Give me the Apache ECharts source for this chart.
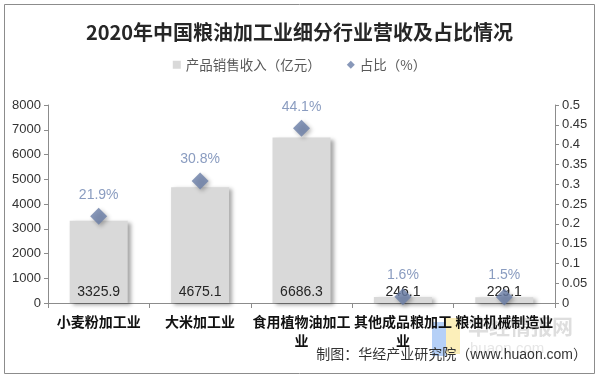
<!DOCTYPE html>
<html>
<head>
<meta charset="utf-8">
<script src="https://cdn.jsdelivr.net/npm/echarts@6/dist/echarts.min.js"></script>
<style>
html,body{margin:0;padding:0;background:#fff;}
#c{width:599px;height:378px;}
</style>
</head>
<body>
<div id="c"></div>
<script>
var titleText = '2020年中国粮油加工业细分行业营收及占比情况';
var categories = ['小麦粉加工业', '大米加工业', '食用植物油加工业', '其他成品粮加工业', '粮油机械制造业'];
var revenue = [3325.9, 4675.1, 6686.3, 246.1, 229.1];
var share = [0.219, 0.308, 0.441, 0.016, 0.015];
var seriesNames = ['产品销售收入（亿元）', '占比（%）'];
var sourceText = '制图：华经产业研究院（www.huaon.com）';

var chart = echarts.init(document.getElementById('c'), null, {renderer: 'canvas'});
var FONT = '"Liberation Sans", Arial, "Noto Sans CJK SC", sans-serif';
var CJK = '"Noto Sans CJK SC", "Liberation Sans", sans-serif';

chart.setOption({
  backgroundColor: '#fff',
  animation: false,
  title: {
    text: titleText,
    left: 'center',
    top: 17,
    textStyle: {fontFamily: CJK, fontSize: 20, fontWeight: 'bold', color: '#262626'}
  },
  legend: {
    top: 53,
    left: 'center',
    itemWidth: 8,
    itemHeight: 8,
    itemGap: 26,
    textStyle: {fontFamily: CJK, fontSize: 13.5, color: '#595959'},
    data: [
      {name: seriesNames[0], icon: 'rect', itemStyle: {color: '#d9d9d9', shadowBlur: 0, shadowOffsetX: 0, shadowOffsetY: 0}},
      {name: seriesNames[1], icon: 'diamond', itemStyle: {color: '#6a7ea8', shadowBlur: 0, shadowOffsetX: 0, shadowOffsetY: 0}}
    ]
  },
  grid: {left: 48, right: 44, top: 105, bottom: 75, containLabel: false},
  xAxis: {
    type: 'category',
    data: categories,
    axisLine: {lineStyle: {color: '#8c8c8c'}},
    axisTick: {show: true, length: 5, lineStyle: {color: '#8c8c8c'}},
    axisLabel: {
      interval: 0,
      margin: 9,
      width: 101,
      overflow: 'break',
      lineHeight: 19,
      fontFamily: CJK,
      fontSize: 14,
      fontWeight: 'bold',
      color: '#111'
    }
  },
  yAxis: [
    {
      type: 'value', min: 0, max: 8000, interval: 1000,
      axisLine: {show: true, lineStyle: {color: '#8c8c8c'}},
      axisTick: {show: true, length: 4, lineStyle: {color: '#8c8c8c'}},
      splitLine: {show: false},
      axisLabel: {
        fontFamily: FONT, fontSize: 13, color: '#333', margin: 7,
        formatter: function (v) { return String(v); }
      }
    },
    {
      type: 'value', min: 0, max: 0.5, interval: 0.05,
      position: 'right',
      axisLine: {show: true, lineStyle: {color: '#8c8c8c'}},
      axisTick: {show: true, length: 4, lineStyle: {color: '#8c8c8c'}},
      splitLine: {show: false},
      axisLabel: {
        fontFamily: FONT, fontSize: 13, color: '#333', margin: 7,
        formatter: function (v) { return String(+v.toFixed(2)); }
      }
    }
  ],
  series: [
    {
      name: seriesNames[0],
      type: 'bar',
      data: revenue,
      barWidth: 58,
      itemStyle: {
        color: '#d9d9d9',
        shadowColor: 'rgba(0,0,0,0.35)',
        shadowBlur: 4,
        shadowOffsetX: 3,
        shadowOffsetY: 2
      },
      label: {
        show: true,
        position: 'insideBottom',
        distance: 4,
        fontFamily: FONT,
        fontSize: 14,
        color: '#262626',
        formatter: function (p) { return p.value.toFixed(1); }
      },
      z: 2
    },
    {
      name: seriesNames[1],
      type: 'scatter',
      yAxisIndex: 1,
      data: share,
      symbol: 'diamond',
      symbolSize: 17,
      itemStyle: {
        color: '#6a7ea8',
        shadowColor: 'rgba(0,0,0,0.35)',
        shadowBlur: 4,
        shadowOffsetX: 2,
        shadowOffsetY: 2
      },
      label: {
        show: true,
        position: 'top',
        distance: 6,
        fontFamily: FONT,
        fontSize: 14,
        color: '#6d83b0',
        formatter: function (p) { return (p.value * 100).toFixed(1) + '%'; }
      },
      z: 5
    }
  ],
  graphic: [
    {
      type: 'rect', silent: true, z: -10,
      shape: {x: 4.5, y: 4.5, width: 590, height: 369},
      style: {fill: 'none', stroke: '#8c8c8c', lineWidth: 1}
    },
    {
      type: 'rect', silent: true, z: -5,
      shape: {x: 432, y: 322, width: 14, height: 34},
      style: {fill: 'rgba(120,170,240,0.55)'}
    },
    {
      type: 'rect', silent: true, z: -5,
      shape: {x: 446, y: 318, width: 14, height: 36},
      style: {fill: 'rgba(250,225,130,0.55)'}
    },
    {
      type: 'text', silent: true, z: -5,
      left: 468, top: 316,
      style: {text: '华经情报网', fontFamily: CJK, fontSize: 21, fontWeight: 'bold', fill: 'rgba(200,200,200,0.6)'}
    },
    {
      type: 'text', silent: true, z: -5,
      left: 470, top: 341,
      style: {text: 'huaon.com', fontFamily: FONT, fontSize: 15, fill: 'rgba(205,205,205,0.5)'}
    },
    {
      type: 'text', silent: true, z: 20,
      right: 12, top: 348,
      style: {text: sourceText, fontFamily: FONT, fontSize: 14, fill: '#333'}
    }
  ]
});
</script>
</body>
</html>
